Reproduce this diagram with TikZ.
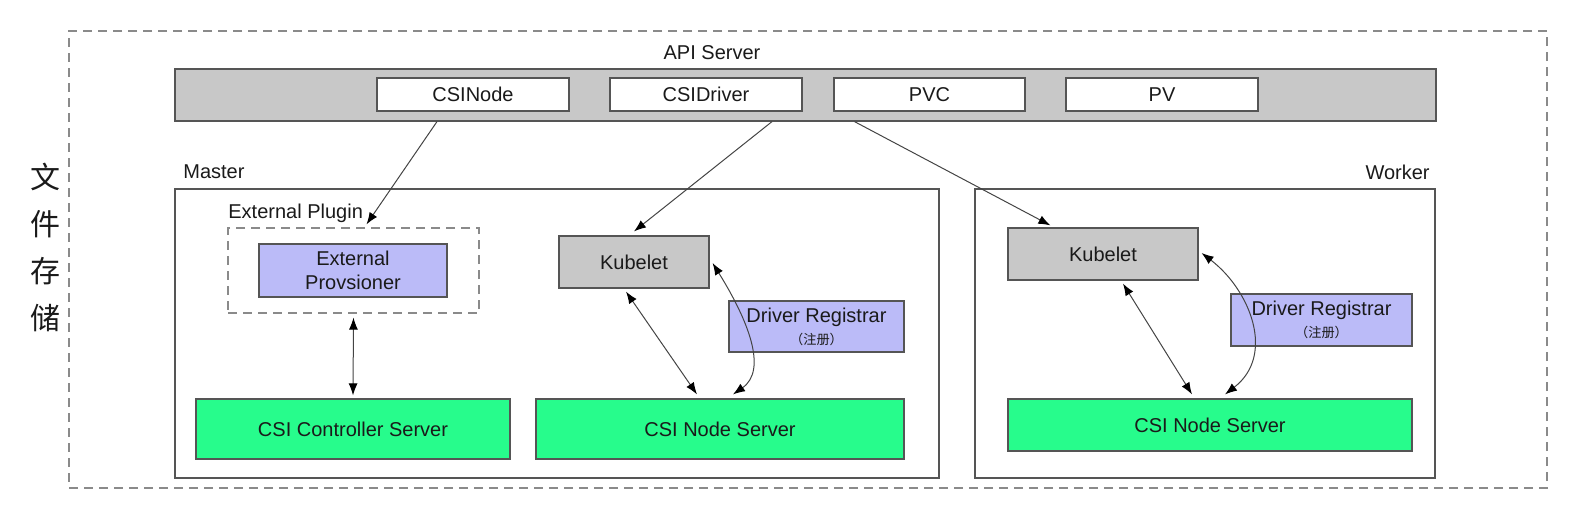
\documentclass[tikz,border=0pt]{standalone}
\usepackage{fontspec}
\setmainfont{Liberation Sans}
\newfontfamily\cjk{Noto Sans CJK SC}
\usetikzlibrary{arrows.meta,calc}
\definecolor{linegray}{HTML}{555555}
\definecolor{arrowgray}{HTML}{444444}
\definecolor{dashgray}{HTML}{8A8A8A}
\definecolor{boxgray}{HTML}{C8C8C8}
\definecolor{lav}{HTML}{BBBBF8}
\definecolor{grn}{HTML}{27FC8C}
\definecolor{txt}{HTML}{1A1A1A}
\begin{document}
\begin{tikzpicture}[x=0.5pt,y=-0.5pt,
  every node/.style={font=\fontsize{10pt}{12pt}\selectfont, text=txt, inner sep=0pt},
  box/.style={draw=linegray, line width=0.6pt, rectangle},
  whitebox/.style={box, fill=white},
  graybox/.style={box, fill=boxgray},
  lavbox/.style={box, fill=lav, align=center},
  greenbox/.style={box, fill=grn},
  container/.style={draw=linegray, line width=0.6pt, rectangle},
  dashbox/.style={draw=dashgray, line width=0.6pt, dash pattern=on 4.5pt off 3pt},
  tip/.style={Latex[length=6pt,width=4.5pt,fill=black,draw=black]},
  conn/.style={draw=arrowgray, line width=0.5pt, -{Latex[length=6pt,width=4.5pt,fill=black,color=black]}},
  biconn/.style={draw=arrowgray, line width=0.5pt, {Latex[length=6pt,width=4.5pt,color=black]}-{Latex[length=6pt,width=4.5pt,color=black]}},
  lbl/.style={}
]
\useasboundingbox (0,0) rectangle (1595,525);

% outer dashed frame
\node[dashbox, minimum width=1478*0.5pt, minimum height=457*0.5pt] (outer) at (808,259.5) {};
\node[font=\cjk\fontsize{15pt}{23.5pt}\selectfont, align=center] (title) at (46,247) {文\\件\\存\\储};

% API server
\node[lbl] (apilbl) at (712,53) {API Server};
\node[box, fill=boxgray, minimum width=1261*0.5pt, minimum height=52*0.5pt] (api) at (805.5,95) {};
\node[whitebox, minimum width=192*0.5pt, minimum height=33*0.5pt] (csinode) at (473,94.5) {CSINode};
\node[whitebox, minimum width=192*0.5pt, minimum height=33*0.5pt] (csidriver) at (706,94.5) {CSIDriver};
\node[whitebox, minimum width=191*0.5pt, minimum height=33*0.5pt] (pvc) at (929.5,94.5) {PVC};
\node[whitebox, minimum width=192*0.5pt, minimum height=33*0.5pt] (pv) at (1162,94.5) {PV};

% Master
\node[container, minimum width=764*0.5pt, minimum height=289*0.5pt] (master) at (557,333.5) {};
\node[anchor=west] (masterlbl) at (183,172) {Master};
\node[anchor=west] (extlbl) at (228,213) {External Plugin};
\node[dashbox, minimum width=251*0.5pt, minimum height=85*0.5pt] (extplugin) at (353.5,270.5) {};
\node[lavbox, minimum width=188*0.5pt, minimum height=53*0.5pt] (extprov) at (353,270.5) {External\\Provsioner};
\node[greenbox, minimum width=314*0.5pt, minimum height=60*0.5pt] (ctrl) at (353,429) {CSI Controller Server};
\node[graybox, minimum width=150*0.5pt, minimum height=52*0.5pt] (kubeM) at (634,262) {Kubelet};
\node[lavbox, minimum width=175*0.5pt, minimum height=51*0.5pt] (drM) at (816.5,326.5) {Driver Registrar\\[-1pt]{\cjk\fontsize{6.6pt}{7.5pt}\selectfont （注册）}};
\node[greenbox, minimum width=368*0.5pt, minimum height=60*0.5pt] (nodeM) at (720,429) {CSI Node Server};

% Worker
\node[container, minimum width=460*0.5pt, minimum height=289*0.5pt] (worker) at (1205,333.5) {};
\node[anchor=east] (workerlbl) at (1430,172) {Worker};
\node[graybox, minimum width=190*0.5pt, minimum height=52*0.5pt] (kubeW) at (1103,254) {Kubelet};
\node[lavbox, minimum width=181*0.5pt, minimum height=52*0.5pt] (drW) at (1321.5,320) {Driver Registrar\\[-1pt]{\cjk\fontsize{6.6pt}{7.5pt}\selectfont （注册）}};
\node[greenbox, minimum width=404*0.5pt, minimum height=52*0.5pt] (nodeW) at (1210,425) {CSI Node Server};

% start points on the API bar's lower edge
\coordinate (s1x) at ($(csinode.south)+(-36,0)$);
\coordinate (s2x) at ($(csidriver.south)+(66,0)$);
\coordinate (s3x) at ($(pvc.south)+(-75,0)$);
\coordinate (s1) at (s1x |- api.south);
\coordinate (s2) at (s2x |- api.south);
\coordinate (s3) at (s3x |- api.south);

% connectors from API server
\draw[conn] (s1) -- ($(extplugin.north)+(13,-3)$);
\draw[conn] (s2) -- ($(kubeM.north)+(0,-4)$);
\draw[conn] (s3) -- ($(kubeW.north west)+(43,-2)$);

% master connectors
\draw[biconn] ($(extplugin.south)+(0,4)$) -- ($(ctrl.north)+(0,-3)$);
\draw[biconn] ($(kubeM.south)+(-8,3)$) -- ($(nodeM.north)+(-23,-4)$);
\draw[biconn] ($(kubeM.east)+(3,1)$) .. controls (748,320) and (768,370) .. ($(nodeM.north)+(13,-4)$);

% worker connectors
\draw[biconn] ($(kubeW.south)+(20,3)$) -- ($(nodeW.north)+(-18,-4)$);
\draw[biconn] ($(kubeW.east)+(3,-1)$) .. controls (1250,290) and (1276,355) .. ($(nodeW.north)+(15,-4)$);
\end{tikzpicture}
\end{document}
